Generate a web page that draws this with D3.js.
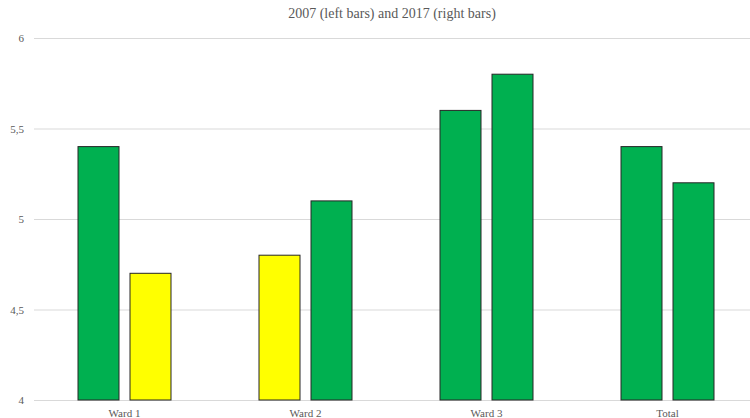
<!DOCTYPE html>
<html><head><meta charset="utf-8">
<script src="https://cdn.jsdelivr.net/npm/d3@7"></script>
<style>body{margin:0;background:#fff}</style>
</head><body>
<svg id="c" width="750" height="418"></svg>
<script>
const categories = ["Ward 1", "Ward 2", "Ward 3", "Total"];
const values2007 = [5.4, 4.8, 5.6, 5.4];
const values2017 = [4.7, 5.1, 5.8, 5.2];
const yTicks = [4, 4.5, 5, 5.5, 6];
const title = "2007 (left bars) and 2017 (right bars)";
const threshold = 5;

const svg = d3.select("#c");
const font = "'Liberation Serif', 'Times New Roman', serif";
const x = d3.scaleBand().domain(categories).range([34, 758]).padding(0);
const y = d3.scaleLinear().domain([4, 6]).range([400, 38]);

svg.append("text").attr("x", 392).attr("y", 18).attr("text-anchor", "middle")
  .attr("font-family", font).attr("font-size", 14).attr("fill", "#595959").text(title);

const yAxis = svg.append("g").attr("transform", "translate(34,0)")
  .call(d3.axisLeft(y).tickValues(yTicks).tickSize(-716).tickFormat(d => String(d).replace(".", ",")).tickPadding(10));
yAxis.select(".domain").remove();
yAxis.selectAll("line").attr("stroke", "#d9d9d9");
yAxis.selectAll("text").attr("font-family", font).attr("font-size", 11).attr("fill", "#595959");

const xAxis = svg.append("g").attr("transform", "translate(0,400)")
  .call(d3.axisBottom(x).tickSize(0).tickPadding(9));
xAxis.select(".domain").remove();
xAxis.selectAll("text").attr("font-family", font).attr("font-size", 11).attr("fill", "#595959");

const bw = 41, gap = 11;
const rows = [];
categories.forEach((c, i) => {
  rows.push({c, v: values2007[i], side: -1});
  rows.push({c, v: values2017[i], side: 1});
});
svg.append("g").selectAll("rect").data(rows).join("rect")
  .attr("x", d => x(d.c) + x.bandwidth()/2 + (d.side < 0 ? -gap/2 - bw : gap/2))
  .attr("y", d => y(d.v))
  .attr("width", bw)
  .attr("height", d => y(4) - y(d.v))
  .attr("fill", d => d.v < threshold ? "#FFFF00" : "#00B050")
  .attr("stroke", "#262626").attr("stroke-width", 1);
</script>
</body></html>
